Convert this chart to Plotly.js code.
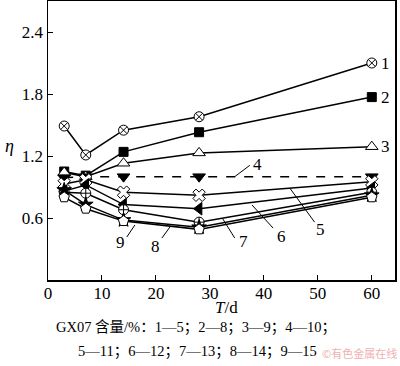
<!DOCTYPE html>
<html><head><meta charset="utf-8">
<script src="https://cdn.plot.ly/plotly-3.0.1.min.js"></script>
<style>html,body{margin:0;padding:0;background:#fff}#c{width:400px;height:366px}</style>
</head><body><div id="c"></div>
<script>
var days = [3, 7, 14, 28, 60];
var s1 = [1.49, 1.21, 1.45, 1.58, 2.10];
var s2 = [1.05, 1.01, 1.24, 1.43, 1.77];
var s3 = [1.04, 1.00, 1.13, 1.23, 1.29];
var s4 = [0.99, 1.00, 1.00, 1.00, 1.00];
var s5 = [0.93, 0.97, 0.85, 0.82, 0.95];
var s6 = [0.86, 0.92, 0.73, 0.69, 0.89];
var s7 = [0.85, 0.84, 0.68, 0.56, 0.85];
var s8 = [0.87, 0.73, 0.58, 0.51, 0.82];
var s9 = [0.80, 0.69, 0.57, 0.49, 0.80];
var seriesNames = ['1','2','3','4','5','6','7','8','9'];
var xTicks = [0, 10, 20, 30, 40, 50, 60];
var yTicks = [0.6, 1.2, 1.8, 2.4];

var F = "'Liberation Serif', 'Times New Roman', serif";
var FC = "'Liberation Serif', 'Noto Sans CJK SC', serif";
var all = [s1,s2,s3,s4,s5,s6,s7,s8,s9];
var sym = ['circle-x','square','triangle-up','triangle-down','x','triangle-left','circle-cross','star','pentagon'];
var fill = ['#fff','#000','#fff','#000','#fff','#000','#fff','#000','#fff'];
var sz = [10,9,11,11,11,11,10,11,11];
var traces = all.map(function(s,i){
  return {x: days, y: s, type:'scatter', mode:'lines+markers', name: seriesNames[i],
    line:{color:'#000', width:1.5, dash: i===3 ? 'dash' : 'solid'},
    marker:{symbol:sym[i], size:sz[i], color:fill[i], line:{color:'#000', width:1}},
    cliponaxis:false, showlegend:false};
});

function lab(x,y,t,xa){return {x:x,y:y,text:t,showarrow:false,xanchor:xa||'center',yanchor:'middle',font:{family:F,size:17,color:'#000'}};}
function pap(x,y,t,f,xa){return {xref:'paper',yref:'paper',x:x,y:y,text:t,showarrow:false,xanchor:xa||'center',yanchor:'middle',font:f};}
var ann = [
  lab(61.3, s1[4], '1', 'left'),
  lab(61.3, s2[4], '2', 'left'),
  lab(61.3, s3[4], '3', 'left'),
  lab(38.9, 1.12, '4'),
  lab(50.5, 0.49, '5'),
  lab(43.2, 0.42, '6'),
  lab(36.2, 0.37, '7'),
  lab(20.0, 0.32, '8'),
  lab(13.5, 0.36, '9'),
  pap(-0.11, 0.48, '<i>η</i>', {family:F,size:18,color:'#000'}),
  pap(0.513, -0.097, '<i>T</i>/d', {family:F,size:17,color:'#000'}),
  pap(0.426, -0.169, 'GX07 含量/%：1—5；2—8；3—9；4—10；', {family:FC,size:14.5,color:'#000'}),
  pap(0.43, -0.255, '5—11；6—12；7—13；8—14；9—15', {family:FC,size:14.5,color:'#000'}),
  pap(1.012, -0.262, '©有色金属在线', {family:"'Noto Sans CJK SC'",size:11,color:'#f0b0b0'}, 'right')
];
function seg(x0,y0,x1,y1){return {type:'line',xref:'x',yref:'y',x0:x0,y0:y0,x1:x1,y1:y1,line:{color:'#000',width:1}};}
var shapes = [
  seg(34.6,1.0,37.4,1.11),
  seg(44.8,0.89,49.4,0.56),
  seg(37.8,0.726,41.7,0.503),
  seg(32.4,0.59,34.6,0.406),
  seg(22.6,0.513,21.1,0.406),
  seg(16.1,0.532,14.6,0.416)
];
var layout = {
  width:400, height:366, paper_bgcolor:'#fff', plot_bgcolor:'#fff',
  margin:{l:48, r:5, t:1, b:86},
  font:{family:F, size:17, color:'#000'},
  xaxis:{range:[0,64.3], tickvals:xTicks, ticktext:xTicks.map(String), ticks:'inside', ticklen:5, tickcolor:'#000',
    showline:true, linecolor:'#000', linewidth:1.5, mirror:true, showgrid:false, zeroline:false, ticklabelstandoff:-3,
    tickfont:{family:F,size:17,color:'#000'}},
  yaxis:{range:[0,2.7], tickvals:yTicks, ticktext:['0.6','1.2','1.8','2.4'], ticks:'inside', ticklen:5, tickcolor:'#000',
    showline:true, linecolor:'#000', linewidth:1.5, mirror:true, showgrid:false, zeroline:false,
    tickfont:{family:F,size:17,color:'#000'}},
  annotations: ann, shapes: shapes, showlegend:false
};
Plotly.newPlot('c', traces, layout, {staticPlot:true});
</script></body></html>
